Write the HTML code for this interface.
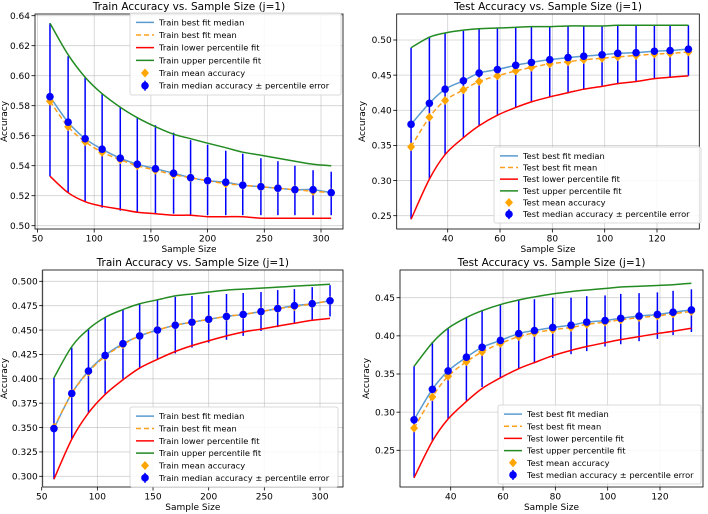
<!DOCTYPE html>
<html><head><meta charset="utf-8"><style>
body{margin:0;background:#fff;}
svg{display:block;font-family:"DejaVu Sans","Liberation Sans",sans-serif;}
</style></head><body>
<svg id="fig" width="708" height="514" viewBox="0 0 708 514"></svg>
<script>
// ---- data ----
const trainX = [61,77,92,107,123,138,154,170,185,200,216,231,247,262,277,293,309];
const testX = [26,33,39,46,52,59,66,72,79,86,92,99,105,112,119,125,132];

const p1Median = [.586,.569,.558,.551,.545,.541,.538,.535,.532,.530,.529,.527,.526,.525,.524,.524,.522];
const p1Mean = [.583,.566,.556,.549,.544,.540,.537,.534,.532,.530,.528,.527,.526,.525,.524,.523,.522];
const p1Upper = [.635,.613,.599,.588,.579,.572,.567,.562,.557,.554,.550,.548,.545,.543,.540,.537,.536];
const p1Lower = [.533,.522,.516,.512,.510,.509,.508,.508,.507,.507,.507,.507,.507,.507,.507,.507,.507];
const p1UpperFit = [.635,.614,.599,.588,.579,.572,.566,.561,.558,.555,.552,.549,.547,.545,.543,.541,.540];
const p1LowerFit = [.533,.522,.516,.513,.511,.509,.508,.507,.507,.506,.506,.506,.505,.505,.505,.505,.505];

const p2Median = [.380,.410,.430,.442,.453,.458,.464,.468,.472,.475,.477,.479,.481,.482,.484,.485,.487];
const p2Mean = [.348,.390,.414,.429,.441,.449,.456,.461,.466,.469,.472,.474,.476,.478,.480,.481,.483];
const p2Upper = [.489,.505,.510,.513,.516,.517,.518,.519,.519,.520,.520,.520,.521,.521,.521,.521,.521];
const p2Lower = [.245,.302,.337,.361,.378,.392,.404,.412,.419,.425,.429,.434,.438,.441,.445,.447,.449];
const p2UpperFit = [.489,.504,.510,.514,.516,.517,.518,.519,.519,.520,.520,.520,.521,.521,.521,.521,.521];
const p2LowerFit = [.245,.302,.337,.361,.378,.393,.404,.412,.419,.425,.430,.434,.438,.441,.445,.447,.449];

const p3Median = [.349,.385,.408,.424,.436,.444,.450,.455,.458,.461,.464,.466,.469,.472,.475,.477,.480];
const p3Mean = [.350,.385,.407,.423,.435,.444,.450,.455,.458,.461,.464,.466,.469,.472,.474,.477,.480];
const p3Upper = [.401,.432,.451,.463,.471,.477,.481,.484,.485,.486,.487,.488,.489,.491,.492,.494,.496];
const p3Lower = [.297,.338,.365,.384,.400,.411,.420,.426,.432,.437,.440,.444,.449,.453,.457,.460,.464];
const p3UpperFit = [.401,.433,.451,.463,.471,.477,.481,.485,.487,.489,.491,.492,.493,.494,.495,.496,.497];
const p3LowerFit = [.297,.338,.365,.384,.399,.411,.420,.428,.434,.439,.444,.448,.451,.454,.457,.460,.462];

const p4Median = [.290,.330,.354,.372,.385,.394,.403,.407,.411,.414,.418,.420,.423,.426,.428,.431,.434];
const p4Mean = [.279,.320,.347,.366,.379,.390,.399,.404,.408,.411,.415,.418,.421,.424,.426,.429,.432];
const p4Upper = [.360,.392,.410,.424,.434,.441,.447,.448,.450,.450,.452,.453,.455,.456,.457,.459,.461];
const p4Lower = [.214,.262,.291,.315,.333,.345,.357,.364,.371,.376,.380,.386,.389,.393,.396,.401,.405];
const p4UpperFit = [.360,.391,.410,.424,.433,.441,.447,.451,.455,.458,.460,.462,.464,.465,.466,.467,.469];
const p4LowerFit = [.214,.262,.291,.314,.331,.345,.357,.365,.374,.381,.386,.391,.395,.399,.403,.406,.410];

const trainTicksX = [50,100,150,200,250,300];
const testTicksX = [40,60,80,100,120];
const p1TicksY = [0.50,0.52,0.54,0.56,0.58,0.60,0.62,0.64];
const p2TicksY = [0.25,0.30,0.35,0.40,0.45,0.50];
const p3TicksY = [0.300,0.325,0.350,0.375,0.400,0.425,0.450,0.475,0.500];
const p4TicksY = [0.25,0.30,0.35,0.40,0.45];

const trainLabels = ["Train best fit median","Train best fit mean","Train lower percentile fit","Train upper percentile fit","Train mean accuracy","Train median accuracy \u00b1 percentile error"];
const testLabels = ["Test best fit median","Test best fit mean","Test lower percentile fit","Test upper percentile fit","Test mean accuracy","Test median accuracy \u00b1 percentile error"];

const NS = "http://www.w3.org/2000/svg";
const svg = document.getElementById('fig');
function mk(tag, attrs, parent){
  const e = document.createElementNS(NS, tag);
  for (const k in attrs) e.setAttribute(k, attrs[k]);
  (parent||svg).appendChild(e);
  return e;
}
function spline(pts){
  let d = "M"+pts[0][0]+","+pts[0][1];
  for (let i=0;i<pts.length-1;i++){
    const p0=pts[Math.max(0,i-1)], p1=pts[i], p2=pts[i+1], p3=pts[Math.min(pts.length-1,i+2)];
    const c1x=p1[0]+(p2[0]-p0[0])/6, c1y=p1[1]+(p2[1]-p0[1])/6;
    const c2x=p2[0]-(p3[0]-p1[0])/6, c2y=p2[1]-(p3[1]-p1[1])/6;
    d += " C"+c1x+","+c1y+" "+c2x+","+c2y+" "+p2[0]+","+p2[1];
  }
  return d;
}

function panel(cfg){
  const g = mk('g', {});
  
  
  const sx = v => cfg.xa[1] + (v-cfg.xa[0])*(cfg.xb[1]-cfg.xa[1])/(cfg.xb[0]-cfg.xa[0]);
  const sy = v => cfg.ya[1] + (v-cfg.ya[0])*(cfg.yb[1]-cfg.ya[1])/(cfg.yb[0]-cfg.ya[0]);
  const [L,T,R,B] = cfg.box;
  cfg.tx.forEach(t=>{
    const x = sx(t);
    const gl = mk('line',{x1:x,x2:x,y1:T,y2:B,stroke:'#b0b0b0','stroke-width':0.8,'stroke-opacity':0.6},g);
    
    
    mk('line',{x1:x,x2:x,y1:B,y2:B+3.5,stroke:'#000','stroke-width':0.8},g);
    const tl = mk('text',{x:x,y:B+12.5,'font-size':9,'text-anchor':'middle',fill:'#000'},g);
    tl.textContent = String(t);
    
    
  });
  cfg.ty.forEach(t=>{
    const y = sy(t);
    const gl = mk('line',{x1:L,x2:R,y1:y,y2:y,stroke:'#b0b0b0','stroke-width':0.8,'stroke-opacity':0.6},g);
    
    
    mk('line',{x1:L-3.5,x2:L,y1:y,y2:y,stroke:'#000','stroke-width':0.8},g);
    const tl = mk('text',{x:L-5,y:y+3.2,'font-size':9,'text-anchor':'end',fill:'#000'},g);
    tl.textContent = t.toFixed(cfg.dec);
    
    
  });
  cfg.x.forEach((v,i)=>{
    const eb = mk('line',{x1:sx(v),x2:sx(v),y1:sy(cfg.lo[i]),y2:sy(cfg.hi[i]),stroke:'#0000ff','stroke-width':1.5},g);
    
    
  });
  const line = (arr,color,name,dash)=>{
    const p = mk('path',{d:spline(cfg.x.map((v,i)=>[sx(v),sy(arr[i])])),fill:'none',stroke:color,'stroke-width':1.5},g);
    if (dash) p.setAttribute('stroke-dasharray', dash);
    
    
  };
  line(cfg.loFit,'#ff0000','lower-percentile-fit');
  line(cfg.hiFit,'#228b22','upper-percentile-fit');
  line(cfg.med,'#5b9bd0','best-fit-median');
  line(cfg.mean,'#ff9f1c','best-fit-mean','5,3');
  cfg.x.forEach((v,i)=>{
    const x=sx(v), y=sy(cfg.mean[i]);
    const d = mk('path',{d:`M${x},${y-4.5} L${x+4},${y} L${x},${y+4.5} L${x-4},${y} Z`,fill:'#ffa500'},g);
    
    
  });
  cfg.x.forEach((v,i)=>{
    const c = mk('circle',{cx:sx(v),cy:sy(cfg.med[i]),r:3.8,fill:'#0000ff'},g);
    
    
  });
  const fr = mk('rect',{x:L,y:T,width:R-L,height:B-T,fill:'none',stroke:'#000','stroke-width':0.8},g);
  
  
  const tt = mk('text',{x:(L+R)/2,y:T-4,'font-size':10.5,'text-anchor':'middle',fill:'#000'},g);
  tt.textContent = cfg.title;
  
  
  const xl = mk('text',{x:(L+R)/2,y:B+23,'font-size':9,'text-anchor':'middle',fill:'#000'},g);
  xl.textContent = 'Sample Size';
  
  
  const yx = cfg.ylx, yy=(T+B)/2;
  const yl = mk('text',{x:yx,y:yy,'font-size':9,'text-anchor':'middle',fill:'#000',transform:`rotate(-90 ${yx} ${yy})`},g);
  yl.textContent = 'Accuracy';
  
  
  const [lx,ly,lw,lh] = cfg.leg;
  const lg = mk('g',{},g);
  
  
  mk('rect',{x:lx,y:ly,width:lw,height:lh,rx:2,fill:'#fff','fill-opacity':0.85,stroke:'#d0d0d0','stroke-width':0.8},lg);
  const step = (lh-6)/6;
  cfg.labels.forEach((lab,i)=>{
    const cy = ly+3+step*(i+0.5);
    const hx = lx+6;
    const e = mk('g',{},lg);
    
    
    if (i<4){
      const col = ['#5b9bd0','#ff9f1c','#ff0000','#228b22'][i];
      const l = mk('line',{x1:hx,x2:hx+18,y1:cy,y2:cy,stroke:col,'stroke-width':1.5},e);
      if (i===1) l.setAttribute('stroke-dasharray','5,3');
    } else if (i===4){
      const x=hx+9;
      mk('path',{d:`M${x},${cy-4.5} L${x+4},${cy} L${x},${cy+4.5} L${x-4},${cy} Z`,fill:'#ffa500'},e);
    } else {
      mk('line',{x1:hx+9,x2:hx+9,y1:cy-5,y2:cy+5,stroke:'#0000ff','stroke-width':1.5},e);
      mk('circle',{cx:hx+9,cy:cy,r:3.8,fill:'#0000ff'},e);
    }
    const t = mk('text',{x:lx+29,y:cy+3,'font-size':8.3,fill:'#000'},e);
    t.textContent = lab;
  });
}

panel({name:'train-panel-top',title:'Train Accuracy vs. Sample Size (j=1)',x:trainX,med:p1Median,mean:p1Mean,hi:p1Upper,lo:p1Lower,hiFit:p1UpperFit,loFit:p1LowerFit,
  xa:[50,37.5],xb:[300,321],ya:[0.50,225.7],yb:[0.64,15.7],box:[35,14,343,229],tx:trainTicksX,ty:p1TicksY,dec:2,ylx:7,
  leg:[130,13,211,82],labels:trainLabels});
panel({name:'test-panel-top',title:'Test Accuracy vs. Sample Size (j=1)',x:testX,med:p2Median,mean:p2Mean,hi:p2Upper,lo:p2Lower,hiFit:p2UpperFit,loFit:p2LowerFit,
  xa:[40,447.7],xb:[120,657],ya:[0.25,215.7],yb:[0.50,40],box:[396.7,14,699.3,229],tx:testTicksX,ty:p2TicksY,dec:2,ylx:365,
  leg:[494,147,207,76],labels:testLabels});
panel({name:'train-panel-bottom',title:'Train Accuracy vs. Sample Size (j=1)',x:trainX,med:p3Median,mean:p3Mean,hi:p3Upper,lo:p3Lower,hiFit:p3UpperFit,loFit:p3LowerFit,
  xa:[50,41.7],xb:[300,320],ya:[0.5,281.3],yb:[0.3,476.3],box:[42.7,270,343,487],tx:trainTicksX,ty:p3TicksY,dec:3,ylx:7,
  leg:[130,407,208,80],labels:trainLabels});
panel({name:'test-panel-bottom',title:'Test Accuracy vs. Sample Size (j=1)',x:testX,med:p4Median,mean:p4Mean,hi:p4Upper,lo:p4Lower,hiFit:p4UpperFit,loFit:p4LowerFit,
  xa:[40,450.7],xb:[120,660],ya:[0.45,297.7],yb:[0.25,450.3],box:[400,270,703,487],tx:testTicksX,ty:p4TicksY,dec:2,ylx:369,
  leg:[498,405,203,79],labels:testLabels});
</script>
</body></html>
